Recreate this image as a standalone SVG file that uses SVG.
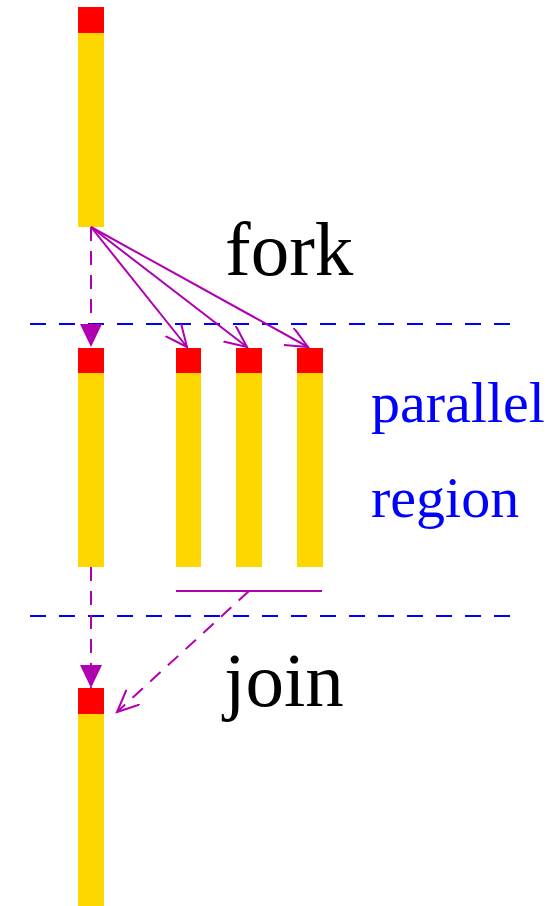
<svg xmlns="http://www.w3.org/2000/svg" width="556" height="906" viewBox="0 0 556 906">
<defs>
<style>
.y{fill:#FFD700}
.r{fill:#FF0000}
.sep{stroke:#0000FF;stroke-width:2;stroke-dasharray:16,13;fill:none}
.c{stroke:#B000B0;stroke-width:2;fill:none}
.d{stroke-dasharray:14,10}
.big{font-family:"Liberation Serif",serif;font-size:77px;fill:#000}
.lbl{font-family:"Liberation Serif",serif;font-size:58px;fill:#0000FF}
</style>
<marker id="filled" markerWidth="24" markerHeight="24" refX="23" refY="11" orient="auto" markerUnits="userSpaceOnUse">
<path d="M0,0 L23,11 L0,22 Z" fill="#B000B0"/>
</marker>
<marker id="open" markerWidth="30" markerHeight="30" refX="22" refY="10" orient="auto" markerUnits="userSpaceOnUse">
<path d="M0,0 L22,10 L0,20" fill="none" stroke="#B000B0" stroke-width="2"/>
</marker>
</defs>
<rect width="556" height="906" fill="#fff"/>
<g id="separators">
<line class="sep" x1="30" y1="324" x2="516" y2="324"/>
<line class="sep" x1="30" y1="616" x2="516" y2="616"/>
</g>
<g id="master-top"><rect class="y" x="78" y="33" width="26" height="194"/><rect class="r" x="78" y="7" width="26" height="26"/></g>
<g id="master-mid"><rect class="y" x="78" y="373" width="26" height="194"/><rect class="r" x="78" y="348" width="26" height="25"/></g>
<g id="worker1"><rect class="y" x="176" y="373" width="25" height="194"/><rect class="r" x="176" y="348" width="25" height="25"/></g>
<g id="worker2"><rect class="y" x="236" y="373" width="26" height="194"/><rect class="r" x="236" y="348" width="26" height="25"/></g>
<g id="worker3"><rect class="y" x="297" y="373" width="26" height="194"/><rect class="r" x="297" y="348" width="26" height="25"/></g>
<g id="master-bottom"><rect class="y" x="78" y="714" width="26" height="192"/><rect class="r" x="78" y="688" width="26" height="26"/></g>
<g id="connectors">
<line class="c d" x1="91" y1="227" x2="91" y2="347" marker-end="url(#filled)"/>
<line class="c" x1="91" y1="227" x2="187" y2="347" marker-end="url(#open)"/>
<line class="c" x1="91" y1="227" x2="247" y2="347" marker-end="url(#open)"/>
<line class="c" x1="91" y1="227" x2="308" y2="347" marker-end="url(#open)"/>
<line class="c d" x1="91" y1="567" x2="91" y2="688" marker-end="url(#filled)"/>
<line class="c" x1="176" y1="591" x2="322" y2="591"/>
<line class="c d" x1="249" y1="591" x2="117" y2="712" marker-end="url(#open)"/>
</g>
<g id="labels">
<text class="big" x="225" y="275">fork</text>
<text class="big" x="224" y="706">join</text>
<text class="lbl" x="371" y="422">parallel</text>
<text class="lbl" x="371" y="517">region</text>
</g>
</svg>
